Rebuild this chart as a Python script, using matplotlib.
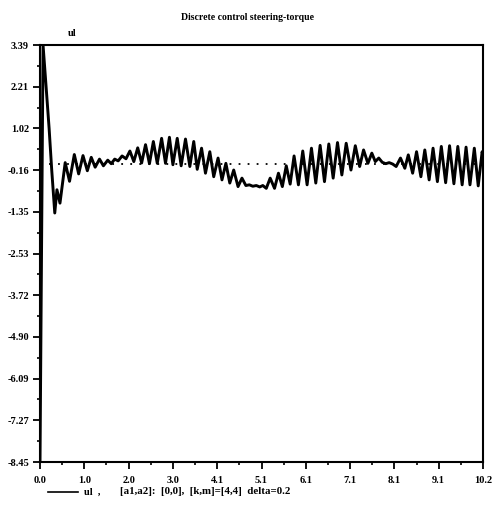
import matplotlib
matplotlib.use('Agg')
import matplotlib.pyplot as plt
from matplotlib.lines import Line2D
import numpy as np

# axis ticks (Scilab style, 10 intervals over data range)
x_ticks = [0.0, 1.02, 2.04, 3.06, 4.08, 5.1, 6.12, 7.14, 8.16, 9.18, 10.2]
x_labels = ['0.0', '1.0', '2.0', '3.0', '4.1', '5.1', '6.1', '7.1', '8.1', '9.1', '10.2']
y_ticks = [3.39, 2.206, 1.022, -0.162, -1.346, -2.53, -3.714, -4.898, -6.082, -7.266, -8.45]
y_labels = ['3.39', '2.21', '1.02', '-0.16', '-1.35', '-2.53', '-3.72', '-4.90', '-6.09', '-7.27', '-8.45']

# ul(t): start transient
t_start = [0.00, 0.07, 0.14, 0.21, 0.27, 0.34, 0.39, 0.46, 0.58, 0.68, 0.79, 0.89, 0.99,
           1.09, 1.18, 1.27, 1.37, 1.46, 1.56, 1.64, 1.72, 1.80, 1.89, 1.98]
v_start = [-8.45, 3.39, 2.21, 1.02, -0.16, -1.38, -0.72, -1.10, 0.05, -0.48, 0.28, -0.27, 0.25,
           -0.18, 0.20, -0.08, 0.15, -0.04, 0.12, 0.02, 0.15, 0.10, 0.24, 0.16]

# first oscillation packet (peak / trough pairs)
t_pack1 = [2.07, 2.16, 2.25, 2.34, 2.43, 2.52, 2.61, 2.70, 2.80, 2.89, 2.98, 3.06, 3.16, 3.25,
           3.35, 3.45, 3.54, 3.62, 3.72, 3.81, 3.91, 4.00, 4.10, 4.19, 4.28, 4.37, 4.46, 4.56,
           4.65, 4.74]
v_pack1 = [0.38, 0.08, 0.47, 0.04, 0.56, 0.02, 0.65, 0.03, 0.74, 0.03, 0.77, -0.01, 0.74, -0.04,
           0.72, -0.06, 0.65, -0.14, 0.46, -0.25, 0.36, -0.35, 0.18, -0.44, 0.03, -0.53, -0.16, -0.63,
           -0.39, -0.60]

# calm stretch
t_calm1 = [4.82, 4.90, 4.98, 5.06, 5.13]
v_calm1 = [-0.58, -0.62, -0.60, -0.64, -0.60]

# second packet
t_pack2 = [5.21, 5.30, 5.40, 5.49, 5.58, 5.67, 5.76, 5.85, 5.95, 6.05, 6.15, 6.25, 6.35, 6.45,
           6.55, 6.65, 6.75, 6.85, 6.95, 7.05, 7.16, 7.26, 7.36, 7.45, 7.55, 7.64, 7.72, 7.80]
v_pack2 = [-0.68, -0.39, -0.68, -0.25, -0.63, -0.04, -0.56, 0.24, -0.58, 0.38, -0.58, 0.46, -0.53, 0.54,
           -0.49, 0.58, -0.39, 0.62, -0.30, 0.60, -0.16, 0.53, -0.06, 0.41, 0.03, 0.32, 0.08, 0.18]

t_calm2 = [7.88, 7.96, 8.04, 8.12, 8.20]
v_calm2 = [0.06, 0.02, 0.05, 0.01, -0.06]

# third packet
t_pack3 = [8.30, 8.40, 8.48, 8.58, 8.67, 8.77, 8.86, 8.96, 9.05, 9.15, 9.24, 9.34, 9.43, 9.53,
           9.62, 9.72, 9.81, 9.90, 10.00, 10.09, 10.18, 10.20]
v_pack3 = [0.18, -0.11, 0.27, -0.25, 0.36, -0.35, 0.41, -0.44, 0.46, -0.49, 0.51, -0.52, 0.53, -0.55,
           0.51, -0.58, 0.49, -0.58, 0.46, -0.61, 0.36, 0.25]

t = np.concatenate([t_start, t_pack1, t_calm1, t_pack2, t_calm2, t_pack3])
ul = np.concatenate([v_start, v_pack1, v_calm1, v_pack2, v_calm2, v_pack3])

plt.rcParams['font.family'] = ['Liberation Serif', 'DejaVu Serif']

fig = plt.figure(figsize=(4.95, 5.14), dpi=100)
ax = fig.add_axes([40 / 495, 1 - 462 / 514, 443 / 495, 417 / 514])

ax.plot(t, ul, color='black', linewidth=2.1, solid_joinstyle='round')
ax.axhline(0, color='black', linewidth=1.3, linestyle=(0, (1, 4)))

ax.set_xlim(0, 10.2)
ax.set_ylim(-8.45, 3.39)
ax.set_xticks(x_ticks)
ax.set_xticklabels(x_labels, fontweight='bold', fontsize=7.5)
ax.set_yticks(y_ticks)
ax.set_yticklabels(y_labels, fontweight='bold', fontsize=7.5)
ax.set_xticks([(a + b) / 2 for a, b in zip(x_ticks[:-1], x_ticks[1:])], minor=True)
ax.set_yticks([(a + b) / 2 for a, b in zip(y_ticks[:-1], y_ticks[1:])], minor=True)
ax.tick_params(which='major', direction='out', length=5, width=1.3)
ax.tick_params(axis='x', which='major', pad=5)
ax.tick_params(axis='y', which='major', pad=3)
ax.tick_params(which='minor', direction='out', length=2, width=1.2)
for s in ax.spines.values():
    s.set_linewidth(1.5)

fig.text(0.5, 1 - 17 / 514, 'Discrete control steering-torque', ha='center', va='center',
         fontsize=7, fontweight='bold')
fig.text(72 / 495, 1 - 34 / 514, 'ul', ha='center', va='center', fontsize=7.5, fontweight='bold')

# legend line under the axes
ly = 1 - 492 / 514
fig.add_artist(Line2D([48 / 495, 78 / 495], [ly, ly], color='black', linewidth=1.2))
fig.text(84 / 495, ly, 'ul  ,', ha='left', va='center', fontsize=7.5, fontweight='bold')
fig.text(120 / 495, ly, '[a1,a2]:  [0,0],  [k,m]=[4,4]  delta=0.2', ha='left', va='center',
         fontsize=7.8, fontweight='bold')

fig.savefig('out.png', dpi=100, facecolor='white')
